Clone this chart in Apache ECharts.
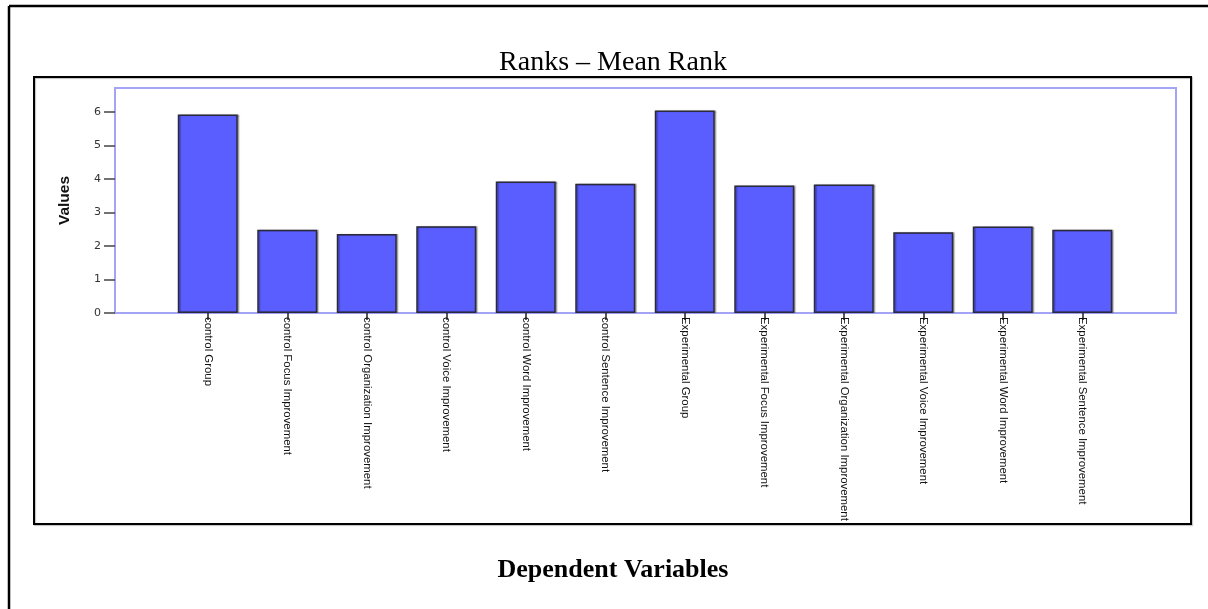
<!DOCTYPE html>
<html>
<head>
<meta charset="utf-8">
<title>Ranks - Mean Rank</title>
<script src="https://cdn.jsdelivr.net/npm/echarts/dist/echarts.min.js"></script>
<style>
  html, body { margin: 0; padding: 0; background: #fff; }
  #myChart { width: 1208px; height: 609px; }
</style>
</head>
<body>
<div id="myChart"></div>
<script>
// 数据
const categories = [
  'control Group',
  'control Focus Improvement',
  'control Organization Improvement',
  'control Voice Improvement',
  'control Word Improvement',
  'control Sentence Improvement',
  'Experimental Group',
  'Experimental Focus Improvement',
  'Experimental Organization Improvement',
  'Experimental Voice Improvement',
  'Experimental Word Improvement',
  'Experimental Sentence Improvement'
];
const meanRank = [5.93, 2.49, 2.36, 2.59, 3.93, 3.86, 6.05, 3.81, 3.84, 2.41, 2.58, 2.49];
const yTicks = [0, 1, 2, 3, 4, 5, 6];
const yMax = 6.72;

const sans = "'Liberation Sans', Arial, sans-serif";

let Chart = echarts.init(document.getElementById('myChart'));
Chart.setOption({
  animation: false,
  graphic: [
    // 外框 (only top and left edges visible)
    { type: 'line', shape: { x1: 9, y1: 6, x2: 1208, y2: 6 }, style: { stroke: '#000', lineWidth: 2.5 } },
    { type: 'line', shape: { x1: 9, y1: 6, x2: 9, y2: 609 }, style: { stroke: '#000', lineWidth: 2.5 } },
    // chart box
    { type: 'rect', shape: { x: 34, y: 77, width: 1157, height: 447 },
      style: { fill: 'none', stroke: '#000', lineWidth: 2, shadowColor: 'rgba(0,0,0,0.25)', shadowOffsetX: 1, shadowOffsetY: 1, shadowBlur: 1 }, z: -1 },
    { type: 'text', x: 613, y: 63,
      style: { text: 'Ranks \u2013 Mean Rank', font: "28px 'Liberation Serif', 'Times New Roman', serif", fill: '#000', textAlign: 'center', textVerticalAlign: 'middle' } },
    { type: 'text', x: 613, y: 570,
      style: { text: 'Dependent Variables', font: "bold 26px 'Liberation Serif', 'Times New Roman', serif", fill: '#000', textAlign: 'center', textVerticalAlign: 'middle' } }
  ],
  grid: [
    // plot frame + y axis
    { left: 115, right: 32, top: 88, bottom: 296, show: true, borderColor: '#a4a4f6', borderWidth: 2, backgroundColor: 'transparent' },
    // bars
    { left: 168, right: 86, top: 88, bottom: 296 }
  ],
  xAxis: [
    { gridIndex: 0, type: 'value', show: false },
    {
      gridIndex: 1,
      type: 'category',
      data: categories,
      axisLine: { show: false },
      axisTick: { show: true, alignWithLabel: true, length: 7, lineStyle: { color: '#222', width: 1.5 } },
      axisLabel: {
        rotate: -90,
        margin: 4,
        interval: 0,
        color: '#111',
        fontSize: 11.4,
        fontFamily: sans
      }
    }
  ],
  yAxis: [
    {
      gridIndex: 0,
      type: 'value',
      min: 0,
      max: yMax,
      name: 'Values',
      nameLocation: 'middle',
      nameRotate: 90,
      nameGap: 42,
      nameTextStyle: { fontFamily: sans, fontWeight: 'bold', fontSize: 15.5, color: '#111' },
      splitLine: { show: false },
      axisLine: { show: false },
      axisTick: { show: true, length: 11, customValues: yTicks, lineStyle: { color: '#444', width: 1.5 } },
      axisLabel: { customValues: yTicks, margin: 14, color: '#333', fontSize: 11, fontFamily: "'DejaVu Sans', sans-serif" }
    },
    { gridIndex: 1, type: 'value', min: 0, max: yMax, show: false, splitLine: { show: false } }
  ],
  series: [{
    name: 'Mean Rank',
    type: 'bar',
    xAxisIndex: 1,
    yAxisIndex: 1,
    data: meanRank,
    barWidth: 60,
    itemStyle: {
      color: '#5b5eff',
      borderColor: '#2a2a3a',
      borderWidth: 1.5,
      shadowColor: 'rgba(0,0,0,0.3)',
      shadowOffsetX: 1.5,
      shadowBlur: 1
    }
  }]
});
</script>
</body>
</html>
